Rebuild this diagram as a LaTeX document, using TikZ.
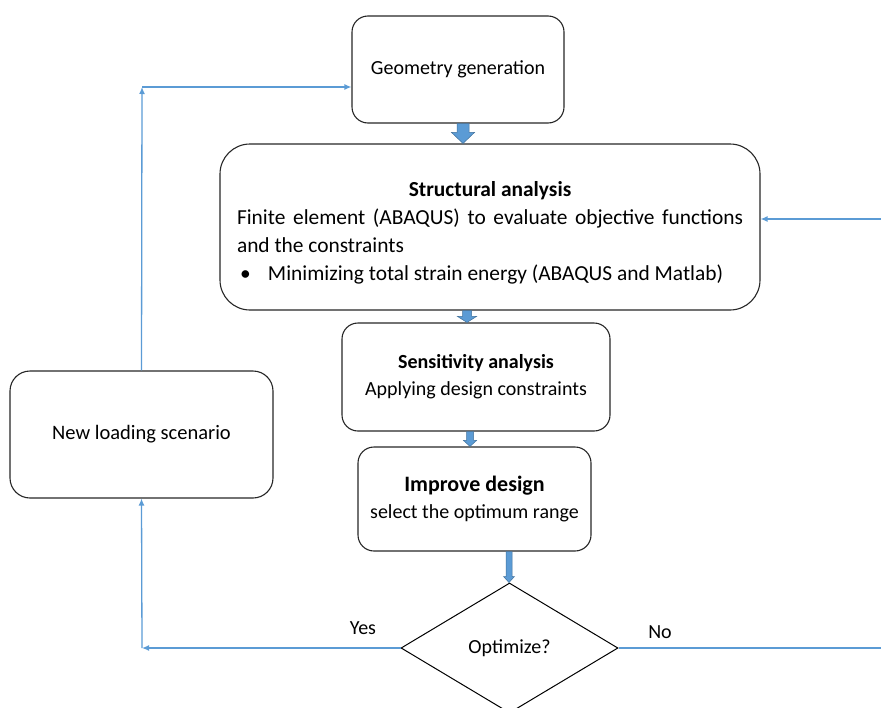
\documentclass[tikz,border=0pt]{standalone}
\usepackage{fontspec}
\setmainfont{Carlito}
\usetikzlibrary{shapes.geometric,arrows.meta,calc}
\definecolor{lineblue}{HTML}{5B9BD5}
\definecolor{fatfill}{HTML}{5B9BD5}
\definecolor{fatedge}{HTML}{41719C}
% #1 x-coordinate name, #2 upper anchor, #3 lower anchor, #4 half shaft, #5 half head, #6 head length
\newcommand\fatarr[6]{%
  \filldraw[fill=fatfill,draw=fatedge,line width=0.5pt]
    ($(#1 |- #2)+(-#4,0)$) -- ($(#1 |- #3)+(-#4,-#6)$) -- ($(#1 |- #3)+(-#5,-#6)$)
    -- (#1 |- #3) -- ($(#1 |- #3)+(#5,-#6)$) -- ($(#1 |- #3)+(#4,-#6)$)
    -- ($(#1 |- #2)+(#4,0)$) -- cycle;}
\begin{document}
\begin{tikzpicture}[x=1pt,y=-1pt,font=\fontsize{20}{27}\selectfont,
  box/.style={draw=black!85,line width=1.1pt,rounded corners=16pt,align=center,inner sep=0pt},
  link/.style={draw=lineblue,line width=1.3pt,-{Latex[length=7pt,width=6pt]}},
  plain/.style={draw=lineblue,line width=1.3pt},
  lbl/.style={inner sep=0pt}]
\useasboundingbox (0,0) rectangle (881,707);
\clip (0,0) rectangle (881,707);

\node[box,minimum width=212pt,minimum height=107pt] (geo) at (458,69.5) {Geometry generation};

\node[box,rounded corners=30pt,minimum width=540pt,minimum height=166pt] (str) at (490,227) {};
\node[lbl,text width=506pt,align=justify,font=\fontsize{21.4}{28}\selectfont] (strtxt) at ([yshift=-6pt]str.center)
  {{\centering\bfseries Structural analysis\par}
   Finite element (ABAQUS) to evaluate objective functions\linebreak and the constraints\par
   \noindent\hbox to 31pt{\hspace{3pt}\textbullet\hfil}Minimizing total strain energy (ABAQUS and Matlab)};

\node[box,minimum width=268pt,minimum height=108pt] (sen) at (476,377)
  {\textbf{Sensitivity analysis}\\Applying design constraints};

\node[box,minimum width=233pt,minimum height=104pt] (imp) at (474.5,499)
  {{\fontsize{22}{28}\selectfont\bfseries Improve design}\\select the optimum range};

\node[box,rounded corners=20pt,minimum width=263pt,minimum height=127pt,font=\fontsize{20.5}{27}\selectfont] (nl) at (141.5,434.5)
  {New loading scenario};

\node[draw=black,line width=1pt,diamond,minimum width=217pt,minimum height=130pt,inner sep=0pt] (opt) at (509.5,648) {Optimize?};

% fat arrows
\coordinate (ax1) at (463,0);
\coordinate (ax2) at (467,0);
\coordinate (ax3) at (470,0);
\coordinate (ax4) at (509,0);
\fatarr{ax1}{geo.south}{str.north}{6}{11.5}{11}
\fatarr{ax2}{str.south}{sen.north}{4.5}{9.5}{6}
\fatarr{ax3}{sen.south}{imp.north}{3.5}{6.5}{6}
\fatarr{ax4}{imp.south}{opt.north}{3}{5.5}{6}

% thin connectors
\coordinate (yc) at (142,648);
\coordinate (tc) at (142,87);
\coordinate (ne) at (881,648);
\coordinate (re) at (881,219);
\draw[link] (opt.west) -- (yc);
\draw[link] (yc) -- (nl.south);
\draw[link] (nl.north) -- (tc);
\draw[link] (tc) -- (tc -| geo.west);
\draw[plain] (opt.east) -- (ne);
\draw[link] (re) -- (re -| str.east);

\node[lbl] (yes) at (363,628) {Yes};
\node[lbl] (no) at (660,632) {No};
\end{tikzpicture}
\end{document}
